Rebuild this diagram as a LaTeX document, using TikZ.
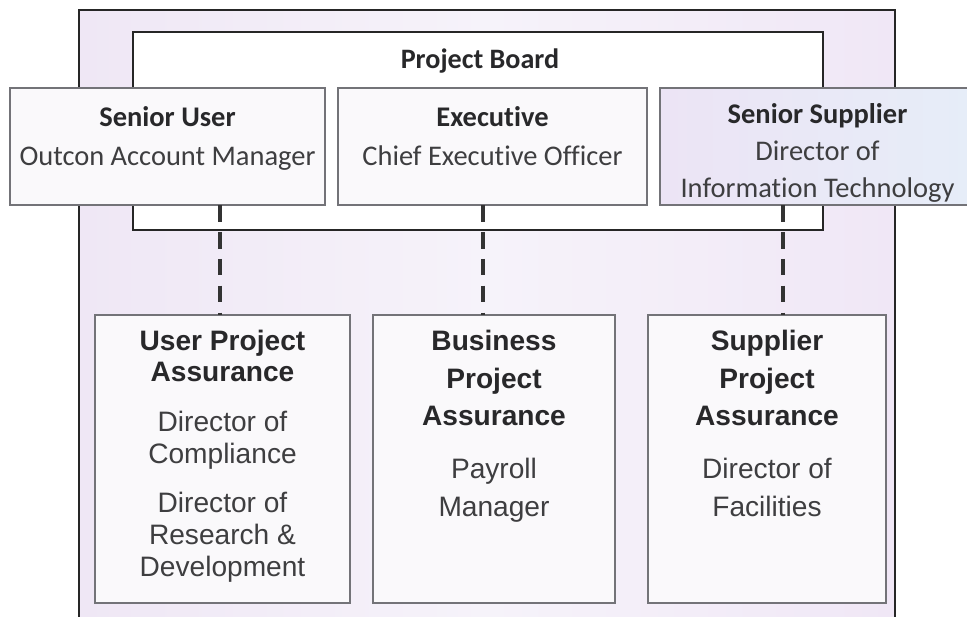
\documentclass[tikz,border=0pt]{standalone}
\usepackage{fontspec}
\setmainfont{Liberation Sans}
\newfontfamily\calibri[Ligatures=NoCommon]{Carlito}
\usepackage{xcolor}
\usepackage{tikz}
\usetikzlibrary{positioning}

\definecolor{lavleft}{RGB}{239,231,245}
\definecolor{lavmid}{RGB}{246,243,250}
\definecolor{lavright}{RGB}{240,231,246}
\definecolor{supleft}{RGB}{236,228,245}
\definecolor{supright}{RGB}{230,237,248}
\definecolor{rolefill}{RGB}{250,249,251}
\definecolor{boxline}{RGB}{115,115,120}
\definecolor{txtdark}{RGB}{40,40,42}
\definecolor{txtgray}{RGB}{62,62,64}

\begin{document}
\begin{tikzpicture}[
        outerbox/.style={rectangle,draw=black!85,line width=1.1pt,anchor=north west,inner sep=0pt,outer sep=0pt},
        boardbox/.style={rectangle,draw=black!85,line width=1.1pt,fill=white,anchor=north west,inner sep=0pt,outer sep=0pt},
        rolebox/.style={rectangle,draw=boxline,line width=0.7pt,fill=rolefill,anchor=north west,inner sep=0pt,outer sep=0pt},
        assurebox/.style={rectangle,draw=boxline,line width=0.9pt,fill=rolefill,anchor=north west,inner sep=0pt,outer sep=0pt},
        roletxt/.style={align=center,inner sep=0pt,text=txtgray,font=\calibri\fontsize{16.2pt}{22pt}\selectfont},
        assuretxt/.style={align=center,inner sep=0pt,text=txtgray,font=\fontsize{16pt}{21.5pt}\selectfont},
        link/.style={draw=black!80,line width=2pt,dash pattern=on 9.5pt off 5.8pt}]
        \useasboundingbox (0,0) rectangle (19.34,-12.32);
        \clip (0,0) rectangle (19.34,-12.32);
        \node[outerbox,minimum width=16.32cm,minimum height=13cm,
              left color=lavleft,right color=lavright,middle color=lavmid] (outer) at (1.58,-0.2) {};
        \node[boardbox,minimum width=13.8cm,minimum height=3.96cm] (board) at (2.66,-0.64) {};
        \node[anchor=base,inner sep=0pt,text=txtdark,font=\calibri\bfseries\fontsize{16pt}{20pt}\selectfont] (title) at (9.6,-1.36) {Project Board};

        \node[rolebox,minimum width=6.3cm,minimum height=2.34cm] (su) at (0.2,-1.76) {};
        \node[rolebox,minimum width=6.18cm,minimum height=2.34cm] (exec) at (6.76,-1.76) {};
        \node[rolebox,minimum width=6.3cm,minimum height=2.34cm,left color=supleft,right color=supright] (ss) at (13.2,-1.76) {};
        \node[roletxt,below=0.37cm of su.north] (sutxt) {\textcolor{txtdark}{\bfseries Senior User}\\Outcon Account Manager};
        \node[roletxt,below=0.37cm of exec.north] (exectxt) {\textcolor{txtdark}{\bfseries Executive}\\Chief Executive Officer};
        \node[roletxt,below=0.3cm of ss.north,font=\calibri\fontsize{16.2pt}{21pt}\selectfont] (sstxt) {\textcolor{txtdark}{\bfseries Senior Supplier}\\Director of\\Information Technology};

        \node[assurebox,minimum width=5.1cm,minimum height=5.76cm] (upa) at (1.9,-6.3) {};
        \node[assurebox,minimum width=4.84cm,minimum height=5.76cm] (bpa) at (7.46,-6.3) {};
        \node[assurebox,minimum width=4.76cm,minimum height=5.76cm] (spa) at (12.96,-6.3) {};
        \node[assuretxt,below=0.29cm of upa.north,font=\fontsize{16pt}{18pt}\selectfont] (upatxt)
            {\textcolor{txtdark}{\bfseries User Project}\\\textcolor{txtdark}{\bfseries Assurance}\\[10.3pt]
             Director of\\Compliance\\[10.3pt]Director of\\Research \&\\Development};
        \node[assuretxt,below=0.29cm of bpa.north] (bpatxt)
            {\textcolor{txtdark}{\bfseries Business}\\\textcolor{txtdark}{\bfseries Project}\\\textcolor{txtdark}{\bfseries Assurance}\\[8.5pt]
             Payroll\\Manager};
        \node[assuretxt,below=0.29cm of spa.north] (spatxt)
            {\textcolor{txtdark}{\bfseries Supplier}\\\textcolor{txtdark}{\bfseries Project}\\\textcolor{txtdark}{\bfseries Assurance}\\[8.5pt]
             Director of\\Facilities};

        \coordinate (colu) at (4.4,0);
        \coordinate (colb) at (9.66,0);
        \coordinate (cols) at (15.66,0);
        \draw[link] (su.south -| colu) -- (upa.north -| colu);
        \draw[link] (exec.south -| colb) -- (bpa.north -| colb);
        \draw[link] (ss.south -| cols) -- (spa.north -| cols);
    \end{tikzpicture}
\end{document}
